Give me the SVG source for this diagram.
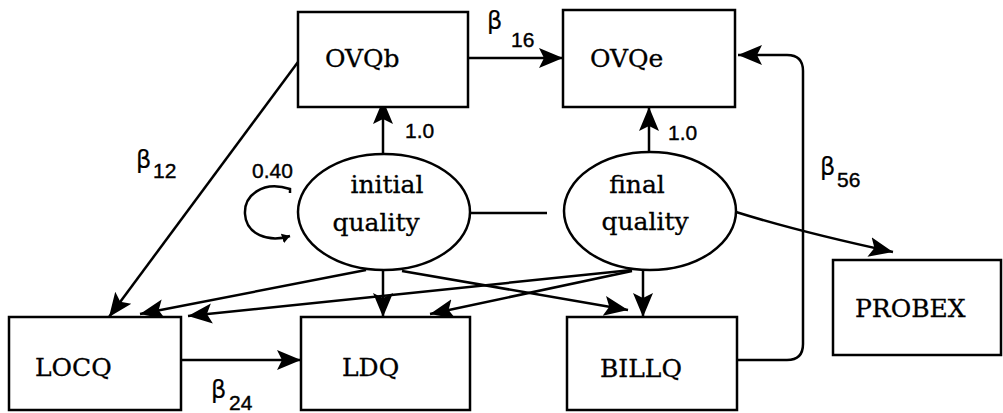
<svg xmlns="http://www.w3.org/2000/svg" width="1003" height="413" viewBox="0 0 1003 413">
<defs>
<style>
.box{fill:#fff;stroke:#000;stroke-width:2.5}
.ell{fill:#fff;stroke:#000;stroke-width:2.5}
.lbl{font-family:"DejaVu Serif",serif;font-size:25px;fill:#000;stroke:#000;stroke-width:0.3}
.num{font-family:"Liberation Sans",Arial,sans-serif;font-size:21px;fill:#000;stroke:#000;stroke-width:0.4}
.beta{font-family:"DejaVu Sans",sans-serif;font-size:24px;fill:#000;stroke:#000;stroke-width:0.2}
.c{fill:none;stroke:#000;stroke-width:2.5}
</style>
<marker id="ah" markerUnits="userSpaceOnUse" markerWidth="28" markerHeight="24" refX="24" refY="11" orient="auto">
<path d="M0,1 L24,11 L0,21 L5,11 Z" fill="#000"/>
</marker>
<marker id="sh" markerUnits="userSpaceOnUse" markerWidth="12" markerHeight="12" refX="8" refY="5" orient="auto">
<path d="M0,0 L8,5 L0,10 Z" fill="#000"/>
</marker>
</defs>
<rect width="1003" height="413" fill="#fff"/>
<g id="connectors">
<path class="c" d="M468,58 H563" marker-end="url(#ah)"/>
<path class="c" d="M298,62 L109,317" marker-end="url(#ah)"/>
<path class="c" d="M383,153 V100" marker-end="url(#ah)"/>
<path class="c" d="M649,152 V107" marker-end="url(#ah)"/>
<path class="c" d="M737,360 H787 Q803,360 803,344 V71 Q803,55 787,55 H738" marker-end="url(#ah)"/>
<path class="c" d="M736,212 Q800,232 893,252" marker-end="url(#ah)"/>
<path class="c" d="M383,270 V317" marker-end="url(#ah)"/>
<path class="c" d="M643,270 V317" marker-end="url(#ah)"/>
<path class="c" d="M366,270 L140,314" marker-end="url(#ah)"/>
<path class="c" d="M632,270 L188,316" marker-end="url(#ah)"/>
<path class="c" d="M632,271 L430,314" marker-end="url(#ah)"/>
<path class="c" d="M402,271 L628,310" marker-end="url(#ah)"/>
<path class="c" d="M181,360 H301" marker-end="url(#ah)"/>
<path class="c" d="M470,213 H547"/>
<path class="c" d="M290,193 V189 C262,180 244,196 245,214 C246,234 268,243 290,236" marker-end="url(#sh)"/>
</g>
<g id="OVQb"><rect class="box" x="298" y="12" width="170" height="95"/><text class="lbl" x="325" y="67">OVQb</text></g>
<g id="OVQe"><rect class="box" x="563" y="10" width="172" height="97"/><text class="lbl" x="590" y="67">OVQe</text></g>
<g id="LOCQ"><rect class="box" x="9" y="317" width="172" height="93"/><text class="lbl" x="35" y="376">LOCQ</text></g>
<g id="LDQ"><rect class="box" x="301" y="317" width="169" height="93"/><text class="lbl" x="342" y="376">LDQ</text></g>
<g id="BILLQ"><rect class="box" x="567" y="317" width="170" height="93"/><text class="lbl" x="600" y="377">BILLQ</text></g>
<g id="PROBEX"><rect class="box" x="833" y="260" width="168" height="95"/><text class="lbl" x="855" y="317">PROBEX</text></g>
<g id="initial_quality"><ellipse class="ell" cx="384" cy="212" rx="86" ry="58"/><text class="lbl" x="387" y="193" text-anchor="middle">initial</text><text class="lbl" x="376" y="231" text-anchor="middle">quality</text></g>
<g id="final_quality"><ellipse class="ell" cx="650" cy="211" rx="86" ry="59"/><text class="lbl" x="637" y="193" text-anchor="middle">final</text><text class="lbl" x="645" y="230" text-anchor="middle">quality</text></g>
<g id="labels">
<text class="beta" x="487" y="29">β</text><text class="num" x="511" y="47">16</text>
<text class="beta" x="136" y="168">β</text><text class="num" x="153" y="178">12</text>
<text class="beta" x="820" y="175">β</text><text class="num" x="837" y="187">56</text>
<text class="beta" x="211" y="398">β</text><text class="num" x="229" y="410">24</text>
<text class="num" x="405" y="138">1.0</text>
<text class="num" x="668" y="140">1.0</text>
<text class="num" x="252" y="178">0.40</text>
</g>
</svg>
